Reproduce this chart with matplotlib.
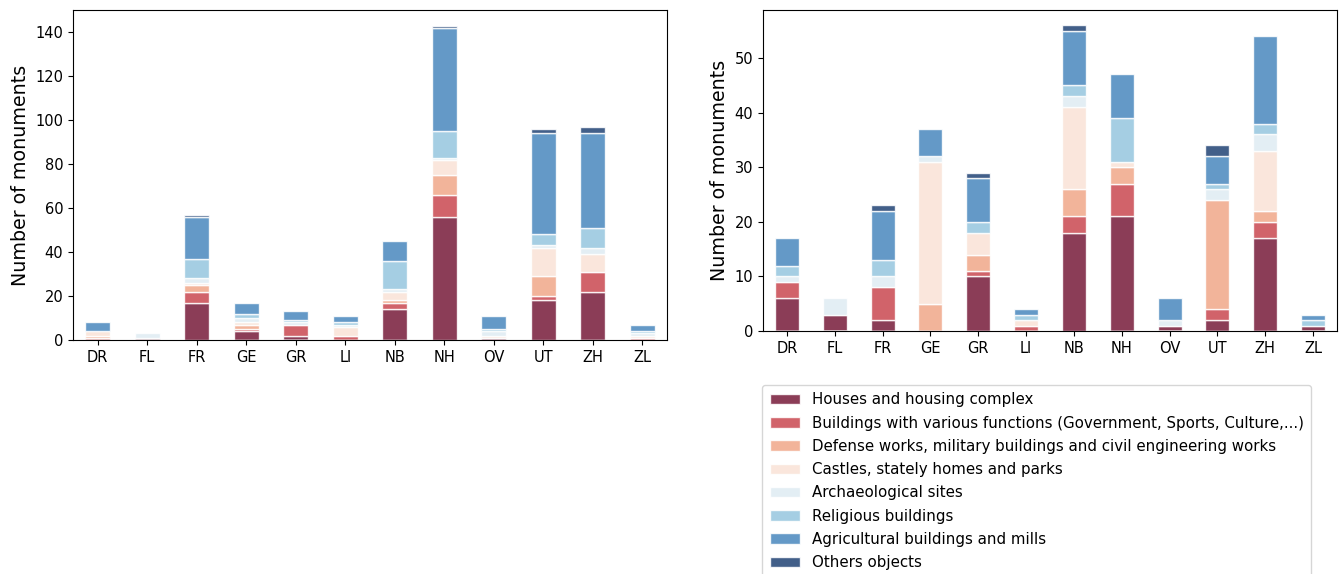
import matplotlib.pyplot as plt
import pandas as pd

provinces = ["DR", "FL", "FR", "GE", "GR", "LI", "NB", "NH", "OV", "UT", "ZH", "ZL"]

categories = [
    "Houses and housing complex",
    "Buildings with various functions (Government, Sports, Culture,...)",
    "Defense works, military buildings and civil engineering works",
    "Castles, stately homes and parks",
    "Archaeological sites",
    "Religious buildings",
    "Agricultural buildings and mills",
    "Others objects",
]

colors = ["#771b39", "#c94850", "#f0a788", "#fae2d6",
          "#deebf3", "#96c6de", "#4987be", "#214375"]

# all monuments per province
all_houses = [0, 1, 17, 4, 2, 0, 14, 56, 1, 18, 22, 0]
all_buildings = [1, 0, 5, 1, 5, 2, 3, 10, 0, 2, 9, 1]
all_defense = [1, 0, 3, 2, 0, 0, 1, 9, 0, 9, 0, 0]
all_castles = [2, 0, 1, 1, 0, 4, 4, 7, 1, 13, 8, 1]
all_archaeo = [0, 2, 2, 2, 1, 1, 1, 1, 2, 1, 3, 1]
all_religious = [0, 0, 9, 2, 1, 1, 13, 12, 1, 5, 9, 1]
all_agri = [4, 0, 19, 5, 4, 3, 9, 47, 6, 46, 43, 3]
all_others = [0, 0, 1, 0, 0, 0, 0, 1, 0, 2, 3, 0]

# selected monuments per province
sel_houses = [6, 3, 2, 0, 10, 0, 18, 21, 1, 2, 17, 1]
sel_buildings = [3, 0, 6, 0, 1, 1, 3, 6, 0, 2, 3, 0]
sel_defense = [0, 0, 0, 5, 3, 0, 5, 3, 0, 20, 2, 0]
sel_castles = [0, 0, 0, 26, 4, 1, 15, 1, 0, 0, 11, 0]
sel_archaeo = [1, 3, 2, 1, 0, 0, 2, 0, 1, 2, 3, 0]
sel_religious = [2, 0, 3, 0, 2, 1, 2, 8, 0, 1, 2, 1]
sel_agri = [5, 0, 9, 5, 8, 1, 10, 8, 4, 5, 16, 1]
sel_others = [0, 0, 1, 0, 1, 0, 1, 0, 0, 2, 0, 0]


def make_frame(columns):
    return pd.DataFrame(dict(zip(categories, columns)), index=provinces)


def draw(ax, df):
    ax.set_axisbelow(True)
    ax.yaxis.grid(True, color="#d4d4d4", linewidth=1.5)
    df.plot.bar(stacked=True, ax=ax, color=colors, alpha=0.85,
                edgecolor="white", linewidth=1, width=0.5, legend=False, rot=0)
    ax.set_ylabel("Number of monuments", fontsize=13.7)
    ax.tick_params(labelsize=10.5)


df_all = make_frame([all_houses, all_buildings, all_defense, all_castles,
                     all_archaeo, all_religious, all_agri, all_others])
df_sel = make_frame([sel_houses, sel_buildings, sel_defense, sel_castles,
                     sel_archaeo, sel_religious, sel_agri, sel_others])

fig = plt.figure(figsize=(13.44, 5.74), dpi=100)
ax1 = fig.add_axes([0.0543, 0.4077, 0.4420, 0.5749])
ax2 = fig.add_axes([0.5677, 0.4233, 0.4271, 0.5593])

draw(ax1, df_all)
draw(ax2, df_sel)

handles, labels = ax2.get_legend_handles_labels()
fig.legend(handles, labels, loc="upper left", bbox_to_anchor=(0.567, 0.3293),
           borderaxespad=0, fontsize=10.8, labelspacing=0.55, borderpad=0.5,
           frameon=True, edgecolor="#cccccc", fancybox=True)

plt.savefig("out.png", dpi=100)
